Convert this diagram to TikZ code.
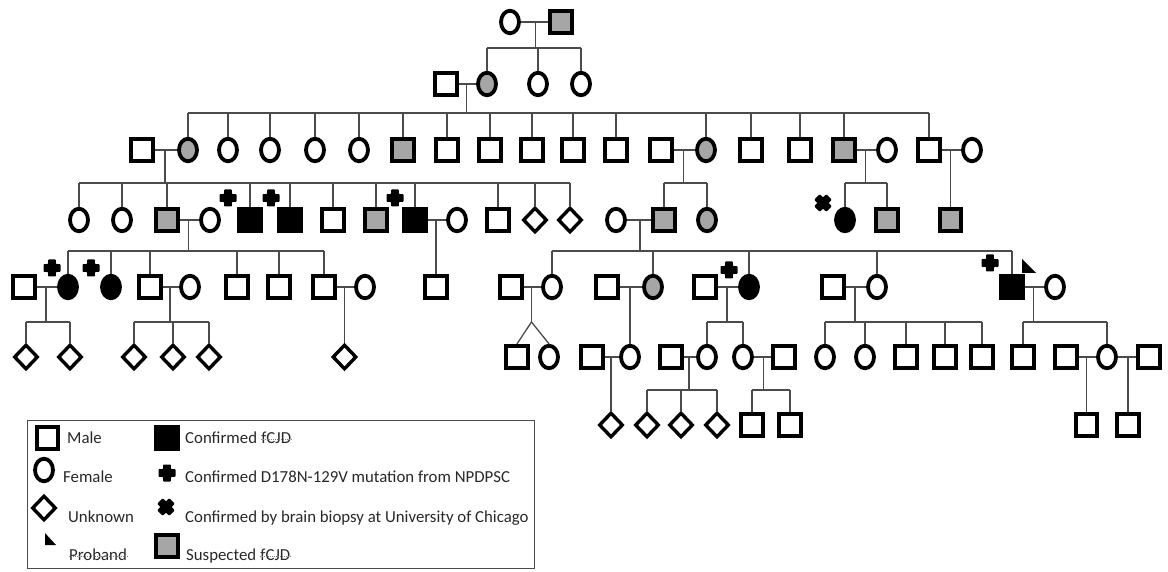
\documentclass[tikz,border=0pt]{standalone}
\usepackage{fontspec}
\setmainfont{Carlito}
\usetikzlibrary{shapes.geometric,calc}
\definecolor{sgray}{RGB}{166,166,166}
\definecolor{lc}{RGB}{75,75,75}
\definecolor{tc}{RGB}{40,40,40}
\newcommand\couple[3]{\draw[ln] (#1) -- (#2); \coordinate (#3) at ($(#1)!0.5!(#2)$);}
\newcommand\kids[5]{% mid, sib y coord, first, last, list
  \draw[ln] (#1) -- (#1 |- #2);
  \draw[ln] (#3.north |- #2) -- (#4.north |- #2);
  \foreach \c in {#5}{\draw[ln] (\c.north) -- (\c.north |- #2);}
}
\begin{document}
\begin{tikzpicture}[x=1pt,y=-1pt,
  sym/.style={draw=black,line width=3.8pt,inner sep=0pt,fill=white},
  male/.style={sym,rectangle,minimum width=21.5pt,minimum height=22.5pt},
  female/.style={sym,ellipse,minimum width=18pt,minimum height=22.5pt},
  unk/.style={sym,diamond,minimum width=24pt,minimum height=25pt,line width=3.4pt},
  aff/.style={fill=black},
  sus/.style={fill=sgray},
  ln/.style={draw=lc,line width=1.3pt},
  squig/.style={draw=gray,line width=0.8pt,dash pattern=on 1pt off 1pt},
  lgtext/.style={anchor=base west,inner sep=0pt,font=\fontsize{16.8}{19}\selectfont,text=tc},
  plusmk/.pic={\fill[black,rounded corners=0.8pt] (-8.5,-3.9) -- (-3.9,-3.9) -- (-3.9,-8.5) -- (3.9,-8.5) -- (3.9,-3.9) -- (8.5,-3.9) -- (8.5,3.9) -- (3.9,3.9) -- (3.9,8.5) -- (-3.9,8.5) -- (-3.9,3.9) -- (-8.5,3.9) -- cycle;},
  timesmk/.pic={\fill[black,rotate=45,rounded corners=0.8pt] (-8.5,-3.9) -- (-3.9,-3.9) -- (-3.9,-8.5) -- (3.9,-8.5) -- (3.9,-3.9) -- (8.5,-3.9) -- (8.5,3.9) -- (3.9,3.9) -- (3.9,8.5) -- (-3.9,8.5) -- (-3.9,3.9) -- (-8.5,3.9) -- cycle;}
]
\useasboundingbox[fill=white] (0,0) rectangle (1168,572);

% sibship levels
\coordinate (y48) at (0,48);
\coordinate (y113) at (0,113);
\coordinate (y183) at (0,183);
\coordinate (y251) at (0,251);
\coordinate (y322) at (0,322);
\coordinate (y390) at (0,390);

% Generation I
\node[female] (A1) at (510,22) {};
\node[male,sus] (A2) at (561,22) {};
% Generation II
\node[male] (B1) at (446,84) {};
\node[female,sus] (B2) at (487,84) {};
\node[female] (B3) at (538,84) {};
\node[female] (B4) at (581,84) {};
% Generation III
\node[male] (C1) at (142,150) {};
\node[female,sus] (C2) at (188,150) {};
\node[female] (C3) at (228,150) {};
\node[female] (C4) at (270,150) {};
\node[female] (C5) at (315,150) {};
\node[female] (C6) at (359,150) {};
\node[male,sus] (C7) at (403,150) {};
\node[male] (C8) at (447,150) {};
\node[male] (C9) at (490,150) {};
\node[male] (C10) at (532,150) {};
\node[male] (C11) at (573,150) {};
\node[male] (C12) at (616,150) {};
\node[male] (C13) at (661,150) {};
\node[female,sus] (C14) at (706,150) {};
\node[male] (C15) at (751,150) {};
\node[male] (C16) at (800,150) {};
\node[male,sus] (C17) at (844,150) {};
\node[female] (C18) at (887,150) {};
\node[male] (C19) at (929,150) {};
\node[female] (C20) at (972,150) {};
% Generation IV
\node[female] (D1) at (79,220) {};
\node[female] (D2) at (122,220) {};
\node[male,sus] (D3) at (167,220) {};
\node[female] (D4) at (210,220) {};
\node[male,aff] (D5) at (250,220) {};
\node[male,aff] (D6) at (290,220) {};
\node[male] (D7) at (333,220) {};
\node[male,sus] (D8) at (376,220) {};
\node[male,aff] (D9) at (415,220) {};
\node[female] (D10) at (457,220) {};
\node[male] (D11) at (498,220) {};
\node[unk] (D12) at (535,220) {};
\node[unk] (D13) at (570,220) {};
\node[female] (D14) at (616,220) {};
\node[male,sus] (D15) at (664,220) {};
\node[female,sus] (D16) at (707,220) {};
\node[female,aff] (D17) at (845,220) {};
\node[male,sus] (D18) at (887,220) {};
\node[male,sus] (D19) at (950.5,220) {};
% Generation V
\node[male] (E1) at (24,287) {};
\node[female,aff] (E2) at (68,287) {};
\node[female,aff] (E3) at (111,287) {};
\node[male] (E4) at (150,287) {};
\node[female] (E5) at (190,287) {};
\node[male] (E6) at (237,287) {};
\node[male] (E7) at (279,287) {};
\node[male] (E8) at (324,287) {};
\node[female] (E9) at (365,287) {};
\node[male] (E10) at (436,287) {};
\node[male] (E11) at (511,287) {};
\node[female] (E12) at (552,287) {};
\node[male] (E13) at (607,287) {};
\node[female,sus] (E14) at (653,287) {};
\node[male] (E15) at (705,287) {};
\node[female,aff] (E16) at (749,287) {};
\node[male] (E17) at (833,287) {};
\node[female] (E18) at (877,287) {};
\node[male,aff] (E19) at (1012,287) {};
\node[female] (E20) at (1055,287) {};
% Generation VI
\node[unk] (F1) at (26,357) {};
\node[unk] (F2) at (70,357) {};
\node[unk] (F3) at (134,357) {};
\node[unk] (F4) at (173,357) {};
\node[unk] (F5) at (209,357) {};
\node[unk] (F6) at (344.5,357) {};
\node[male] (F7) at (517,357) {};
\node[female] (F8) at (549,357) {};
\node[male] (F9) at (592,357) {};
\node[female] (F10) at (630,357) {};
\node[male] (F11) at (671,357) {};
\node[female] (F12) at (707,357) {};
\node[female] (F13) at (743,357) {};
\node[male] (F14) at (784,357) {};
\node[female] (F15) at (825,357) {};
\node[female] (F16) at (865,357) {};
\node[male] (F17) at (906,357) {};
\node[male] (F18) at (945,357) {};
\node[male] (F19) at (982,357) {};
\node[male] (F20) at (1023,357) {};
\node[male] (F21) at (1066,357) {};
\node[female] (F22) at (1107,357) {};
\node[male] (F23) at (1149,357) {};
% Generation VII
\node[unk] (G1) at (611,425) {};
\node[unk] (G2) at (647,425) {};
\node[unk] (G3) at (681,425) {};
\node[unk] (G4) at (717,425) {};
\node[male] (G5) at (752,425) {};
\node[male] (G6) at (790,425) {};
\node[male] (G7) at (1086.5,425) {};
\node[male] (G8) at (1128,425) {};

% Families
\couple{A1}{A2}{mA}
\kids{mA}{y48}{B2}{B4}{B2,B3,B4}
\couple{B1}{B2}{mB}
\kids{mB}{y113}{C2}{C19}{C2,C3,C4,C5,C6,C7,C8,C9,C10,C11,C12,C14,C15,C16,C17,C19}
\couple{C1}{C2}{mC1}
\kids{mC1}{y183}{D1}{D13}{D1,D2,D3,D5,D6,D7,D8,D9,D11,D12,D13}
\couple{C13}{C14}{mC2}
\kids{mC2}{y183}{D15}{D16}{D15,D16}
\couple{C17}{C18}{mC3}
\kids{mC3}{y183}{D17}{D18}{D17,D18}
\couple{C19}{C20}{mC4}
\draw[ln] (mC4) -- (D19.north);
\couple{D3}{D4}{mD1}
\kids{mD1}{y251}{E2}{E8}{E2,E3,E4,E6,E7,E8}
\couple{D9}{D10}{mD2}
\draw[ln] (mD2) -- (E10.north);
\couple{D14}{D15}{mD3}
\kids{mD3}{y251}{E12}{E19}{E12,E14,E16,E18,E19}
\couple{E1}{E2}{mE1}
\kids{mE1}{y322}{F1}{F2}{F1,F2}
\couple{E4}{E5}{mE2}
\kids{mE2}{y322}{F3}{F5}{F3,F4,F5}
\couple{E8}{E9}{mE3}
\draw[ln] (mE3) -- (F6.north);
\couple{E11}{E12}{mE4}
\coordinate (tw) at (mE4 |- y322);
\draw[ln] (mE4) -- (tw);
\draw[ln] (tw) -- (F7.north);
\draw[ln] (tw) -- (F8.north);
\couple{E13}{E14}{mE5}
\draw[ln] (mE5) -- (F10.north);
\couple{E15}{E16}{mE6}
\kids{mE6}{y322}{F12}{F13}{F12,F13}
\couple{E17}{E18}{mE7}
\kids{mE7}{y322}{F15}{F19}{F15,F16,F17,F18,F19}
\couple{E19}{E20}{mE8}
\kids{mE8}{y322}{F20}{F22}{F20,F22}
\couple{F9}{F10}{mF1}
\draw[ln] (mF1) -- (G1.north);
\couple{F11}{F12}{mF2}
\kids{mF2}{y390}{G2}{G4}{G2,G3,G4}
\couple{F13}{F14}{mF3}
\kids{mF3}{y390}{G5}{G6}{G5,G6}
\couple{F21}{F22}{mF4}
\draw[ln] (mF4) -- (G7.north);
\couple{F22}{F23}{mF5}
\draw[ln] (mF5) -- (G8.north);

% marks
\pic at (228,198) {plusmk};
\pic at (271,198) {plusmk};
\pic at (395,198) {plusmk};
\pic at (823,203) {timesmk};
\pic at (52,268) {plusmk};
\pic at (91,268) {plusmk};
\pic at (729,270) {plusmk};
\pic at (990,263) {plusmk};
\fill[black] (1022,259) -- (1022,273) -- (1036,273) -- cycle;

% Legend
\draw[draw=lc,line width=1pt] (27,420) rectangle (534,568);
\node[male] (Lm) at (47.5,438) {};
\node[female] (Lf) at (44,470) {};
\node[unk] (Lu) at (44,508) {};
\fill[black] (45,533) -- (45,545) -- (56,545) -- cycle;
\node[male,aff] (La) at (167,438) {};
\pic at (167,473) {plusmk};
\pic at (166,507) {timesmk};
\node[male,sus] (Ls) at (167,546) {};
\node[lgtext] (T1) at (67,443) {Male};
\node[lgtext] (T2) at (63,482) {Female};
\node[lgtext] (T3) at (68,522) {Unknown};
\node[lgtext] (T4) at (69,560) {Proband};
\node[lgtext] (T5) at (185,443) {Confirmed};
\node[lgtext] (T5b) at ([xshift=3.8pt]T5.base east) {fCJD};
\node[lgtext] (T6) at (185,482) {Confirmed D178N-129V mutation from NPDPSC};
\node[lgtext] (T7) at (185,522) {Confirmed by brain biopsy at University of Chicago};
\node[lgtext] (T8) at (186,560) {Suspected};
\node[lgtext] (T8b) at ([xshift=3.8pt]T8.base east) {fCJD};
\draw[squig] ([yshift=3.5pt]T4.base west) -- ([yshift=3.5pt]T4.base east);
\draw[squig] ([yshift=3.5pt]T5b.base west) -- ([yshift=3.5pt]T5b.base east);
\draw[squig] ([yshift=3.5pt]T8b.base west) -- ([yshift=3.5pt]T8b.base east);
\end{tikzpicture}
\end{document}
